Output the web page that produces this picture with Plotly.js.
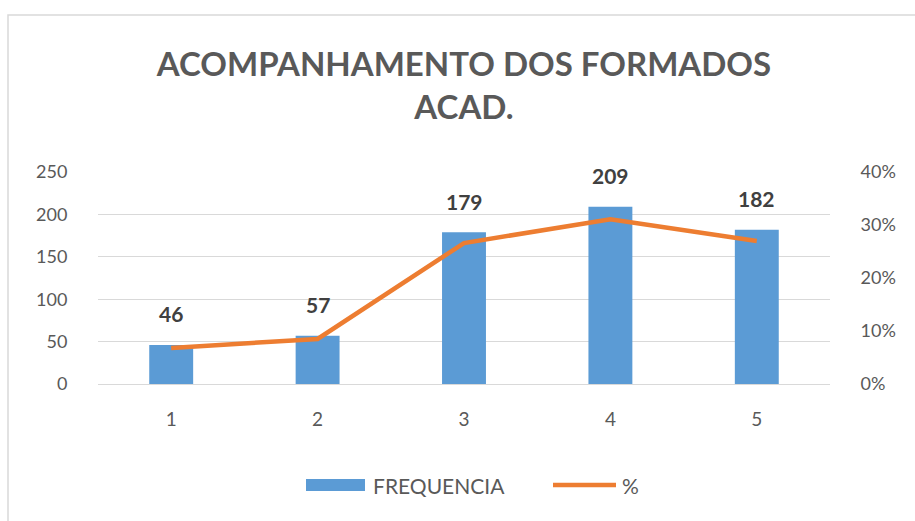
<!DOCTYPE html>
<html>
<head>
<meta charset="utf-8">
<script src="https://cdn.plot.ly/plotly-3.0.1.min.js"></script>
<style>
  html, body { margin: 0; padding: 0; background: #ffffff; overflow: hidden; }
  #chart { width: 915px; height: 521px; }
</style>
</head>
<body>
<div id="chart"></div>
<script>
// ---- data ----
const categories = [1, 2, 3, 4, 5];
const frequencia = [46, 57, 179, 209, 182];
const percent = [0.068, 0.085, 0.266, 0.311, 0.270];
const leftTicks = [0, 50, 100, 150, 200, 250];
const rightTicks = [0, 0.1, 0.2, 0.3, 0.4];
const rightTickText = ['0%', '10%', '20%', '30%', '40%'];
const seriesNames = ['FREQUENCIA', '%'];

const FONT = 'Lato, "Open Sans", sans-serif';
const GRAY = '#595959';
const BLUE = '#5B9BD5';
const ORANGE = '#ED7D31';

const traces = [
  {
    type: 'bar',
    name: seriesNames[0],
    x: categories,
    y: frequencia,
    width: 0.3,
    marker: { color: BLUE },
    showlegend: false
  },
  {
    type: 'scatter',
    mode: 'lines',
    name: seriesNames[1],
    x: categories,
    y: percent,
    yaxis: 'y2',
    line: { color: ORANGE, width: 4.5 },
    showlegend: false
  }
];

const annotations = categories.map((c, i) => ({
  x: c,
  y: frequencia[i],
  xref: 'x',
  yref: 'y',
  text: String(frequencia[i]),
  showarrow: false,
  yshift: 31,
  font: { family: FONT, size: 21, color: '#404040', weight: 'bold' }
}));

// custom legend (paper coords from pixel positions)
const PX = px => (px - 98) / 732;
const PY = py => (384 - py) / 212;
annotations.push(
  { xref: 'paper', yref: 'paper', x: PX(371), y: PY(485), xanchor: 'left', yanchor: 'middle',
    text: seriesNames[0], showarrow: false, font: { family: FONT, size: 21, color: GRAY } },
  { xref: 'paper', yref: 'paper', x: PX(620), y: PY(485), xanchor: 'left', yanchor: 'middle',
    text: seriesNames[1], showarrow: false, font: { family: FONT, size: 21, color: GRAY } }
);

const layout = {
  width: 915,
  height: 521,
  margin: { l: 98, r: 85, t: 172, b: 137 },
  paper_bgcolor: '#ffffff',
  plot_bgcolor: '#ffffff',
  font: { family: FONT, color: GRAY },
  title: {
    text: '<b>ACOMPANHAMENTO DOS FORMADOS<br>ACAD.</b>',
    font: { family: FONT, size: 33, color: GRAY },
    x: 0.5,
    xref: 'paper',
    xanchor: 'center',
    y: 1 - 76 / 521,
    yref: 'container',
    yanchor: 'middle'
  },
  showlegend: false,
  xaxis: {
    range: [0.5, 5.5],
    tickvals: categories,
    ticktext: categories.map(String),
    showgrid: false,
    showline: true,
    linecolor: '#d9d9d9',
    linewidth: 1,
    ticks: 'outside',
    ticklen: 18,
    tickcolor: 'rgba(0,0,0,0)',
    tickfont: { family: FONT, size: 19, color: GRAY },
    zeroline: false,
    fixedrange: true
  },
  yaxis: {
    range: [0, 250],
    tickvals: leftTicks,
    ticktext: leftTicks.map(String),
    showgrid: true,
    gridcolor: '#d9d9d9',
    gridwidth: 1,
    zeroline: false,
    showline: false,
    ticks: 'outside',
    ticklen: 26,
    tickcolor: 'rgba(0,0,0,0)',
    tickfont: { family: FONT, size: 18, color: GRAY },
    fixedrange: true
  },
  yaxis2: {
    overlaying: 'y',
    side: 'right',
    range: [0, 0.4],
    tickvals: rightTicks,
    ticktext: rightTickText,
    showgrid: false,
    zeroline: false,
    showline: false,
    ticks: 'outside',
    ticklen: 26,
    tickcolor: 'rgba(0,0,0,0)',
    tickfont: { family: FONT, size: 18, color: GRAY },
    fixedrange: true
  },
  annotations: annotations,
  shapes: [
    {
      type: 'rect',
      xref: 'paper', yref: 'paper',
      x0: PX(8), x1: PX(916),
      y0: PY(530), y1: PY(15),
      line: { color: '#d9d9d9', width: 1.5 },
      fillcolor: 'rgba(0,0,0,0)',
      layer: 'below'
    },
    {
      type: 'rect',
      xref: 'paper', yref: 'paper',
      x0: PX(306), x1: PX(365),
      y0: PY(491), y1: PY(479),
      line: { width: 0 },
      fillcolor: BLUE
    },
    {
      type: 'line',
      xref: 'paper', yref: 'paper',
      x0: PX(553), x1: PX(616),
      y0: PY(485), y1: PY(485),
      line: { color: ORANGE, width: 4.5 }
    }
  ]
};

Plotly.newPlot('chart', traces, layout, { displayModeBar: false, staticPlot: true });
</script>
</body>
</html>
